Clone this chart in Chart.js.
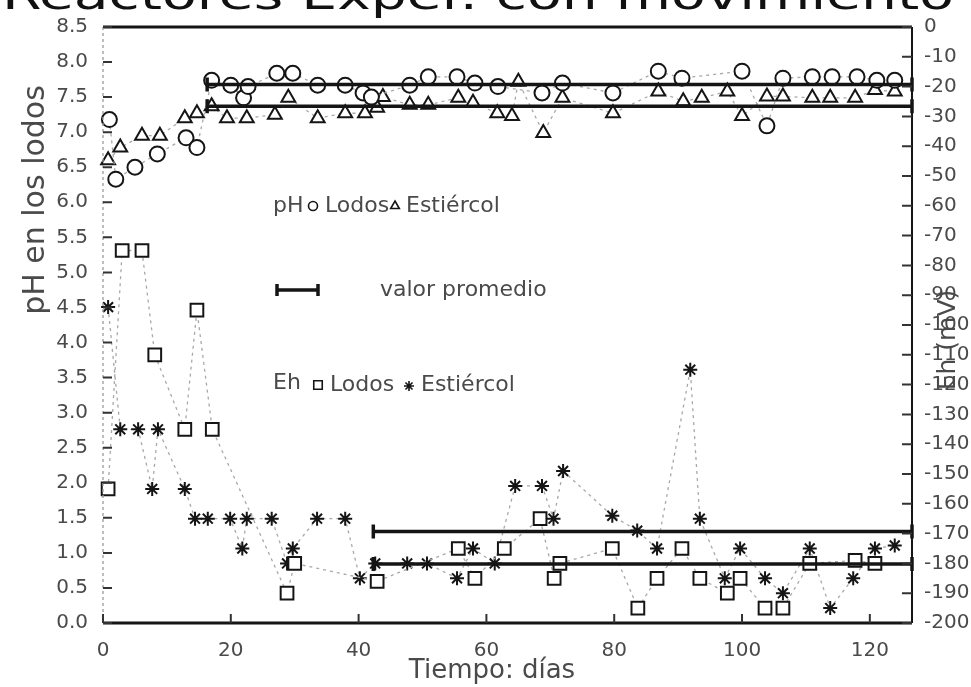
<!DOCTYPE html>
<html>
<head>
<meta charset="utf-8">
<script src="https://cdn.jsdelivr.net/npm/chart.js@4.4.1/dist/chart.umd.min.js"></script>
<style>
  html, body { margin: 0; padding: 0; background: #fff; }
  #wrap { width: 971px; height: 687px; }
</style>
</head>
<body>
<div id="wrap"><canvas id="chart" width="971" height="687"></canvas></div>
<script>
// pH, Lodos (circles)
const phLodosDays = [1, 2, 5, 8.5, 13, 14.7, 17, 20, 22, 22.7, 27.2, 29.7, 33.6, 37.9, 40.7, 42, 48, 50.9, 55.4, 58.2, 61.8, 68.7, 71.9, 79.8, 86.9, 90.6, 100, 103.9, 106.4, 111, 114.1, 118, 121.1, 123.9];
const phLodos = [7.18, 6.33, 6.5, 6.69, 6.92, 6.78, 7.74, 7.67, 7.49, 7.65, 7.84, 7.84, 7.67, 7.67, 7.56, 7.5, 7.67, 7.79, 7.79, 7.7, 7.65, 7.56, 7.7, 7.56, 7.87, 7.77, 7.87, 7.09, 7.77, 7.79, 7.79, 7.79, 7.74, 7.74];
// pH, Estiércol (triangles)
const phEstDays = [0.8, 2.7, 6.1, 8.9, 12.8, 14.7, 17, 19.4, 22.5, 26.9, 29, 33.6, 37.9, 41, 42.9, 43.8, 48, 50.9, 55.6, 57.9, 61.7, 64, 65, 68.9, 71.9, 79.8, 86.9, 90.8, 93.7, 97.7, 100, 103.9, 106.4, 111, 113.8, 117.7, 120.8, 123.9];
const phEst = [6.6, 6.78, 6.95, 6.95, 7.2, 7.27, 7.37, 7.2, 7.2, 7.25, 7.49, 7.2, 7.27, 7.27, 7.35, 7.5, 7.39, 7.39, 7.49, 7.42, 7.27, 7.23, 7.72, 6.99, 7.49, 7.27, 7.58, 7.44, 7.49, 7.58, 7.23, 7.51, 7.51, 7.49, 7.49, 7.49, 7.6, 7.58];
// Eh, Lodos (squares), mV
const ehLodosDays = [0.8, 3, 6.1, 8.1, 12.8, 14.7, 17.1, 28.8, 30, 42.9, 55.6, 58.2, 62.8, 68.4, 70.6, 71.5, 79.7, 83.7, 86.7, 90.6, 93.4, 97.7, 99.7, 103.6, 106.4, 110.6, 117.7, 120.8];
const ehLodos = [-155, -75, -75, -110, -135, -95, -135, -190, -180, -186, -175, -185, -175, -165, -185, -180, -175, -195, -185, -175, -185, -190, -185, -195, -195, -180, -179, -180];
// Eh, Estiércol (stars), mV
const ehEstDays = [0.8, 2.7, 5.5, 7.7, 8.6, 12.8, 14.4, 16.4, 19.9, 21.8, 22.5, 26.4, 28.8, 29.7, 33.5, 37.9, 40.2, 42.6, 47.6, 50.7, 55.4, 57.9, 61.3, 64.5, 68.7, 70.5, 72, 79.7, 83.6, 86.7, 91.9, 93.4, 97.3, 99.7, 103.6, 106.4, 110.6, 113.8, 117.4, 120.8, 123.9];
const ehEst = [-94, -135, -135, -155, -135, -155, -165, -165, -165, -175, -165, -165, -180, -175, -165, -165, -185, -180, -180, -180, -185, -175, -180, -154, -154, -165, -149, -164, -169, -175, -115, -165, -185, -175, -185, -190, -175, -195, -185, -175, -174];

// valor promedio
const avgPhDays = [16.3, 126.6];
const avgPhLodos = [7.68, 7.68];
const avgPhEst = [7.37, 7.37];
const avgEhDays = [42.3, 126.6];
const avgEhLodos = [-180.2, -180.2];
const avgEhEst = [-169.3, -169.3];

// axis ticks
const dayTicks = [0, 20, 40, 60, 80, 100, 120];
const phTicks = [0, 0.5, 1, 1.5, 2, 2.5, 3, 3.5, 4, 4.5, 5, 5.5, 6, 6.5, 7, 7.5, 8, 8.5];
const ehTicks = [0, -10, -20, -30, -40, -50, -60, -70, -80, -90, -100, -110, -120, -130, -140, -150, -160, -170, -180, -190, -200];

const pts = (xs, ys) => xs.map((x, i) => ({ x, y: ys[i] }));

const INK = '#151515';
const LABEL = '#4a4a4a';
const FONT = 'DejaVu Sans';

const markerSeries = (data, axis, style, radius) => ({
  data,
  yAxisID: axis,
  showLine: true,
  borderColor: '#a8a8a8',
  borderWidth: 1.3,
  borderDash: [3, 4],
  pointStyle: style,
  pointRadius: radius,
  pointBorderColor: INK,
  pointBackgroundColor: '#fff',
  pointBorderWidth: 2,
  clip: false,
});

const avgSeries = (data, axis) => ({
  data,
  yAxisID: axis,
  showLine: true,
  borderColor: INK,
  borderWidth: 3.5,
  pointStyle: 'line',
  pointRotation: 90,
  pointRadius: 7,
  pointBorderColor: INK,
  pointBorderWidth: 3.5,
  clip: false,
});

const chromePlugin = {
  id: 'chrome',
  afterDraw(chart) {
    const { ctx, chartArea: a, scales } = chart;
    ctx.save();

    // title, cut off at the top edge as in the scan
    ctx.fillStyle = '#111';
    ctx.font = `40px ${FONT}`;
    ctx.textAlign = 'left';
    ctx.textBaseline = 'alphabetic';
    const title = 'Reactores Exper. con movimiento';
    const tw = ctx.measureText(title).width;
    ctx.save();
    ctx.translate(2, 9);
    ctx.scale(952 / tw, 1);
    ctx.fillText(title, 0, 0);
    ctx.restore();

    // frame
    ctx.strokeStyle = INK;
    ctx.lineWidth = 3;
    ctx.beginPath();
    ctx.moveTo(a.left, a.top); ctx.lineTo(a.right, a.top);
    ctx.moveTo(a.left, a.bottom); ctx.lineTo(a.right, a.bottom);
    ctx.stroke();
    ctx.lineWidth = 2;
    ctx.beginPath();
    ctx.moveTo(a.right, a.top); ctx.lineTo(a.right, a.bottom);
    ctx.stroke();
    ctx.strokeStyle = '#9a9a9a';
    ctx.lineWidth = 1.3;
    ctx.setLineDash([3, 3]);
    ctx.beginPath();
    ctx.moveTo(a.left, a.top); ctx.lineTo(a.left, a.bottom);
    ctx.stroke();
    ctx.setLineDash([]);

    // inward tick marks
    ctx.strokeStyle = '#333';
    ctx.lineWidth = 2;
    ctx.beginPath();
    phTicks.forEach((v) => {
      const y = scales.yL.getPixelForValue(v);
      ctx.moveTo(a.left, y); ctx.lineTo(a.left + 9, y);
    });
    ehTicks.forEach((v) => {
      const y = scales.yR.getPixelForValue(v);
      ctx.moveTo(a.right - 10, y); ctx.lineTo(a.right, y);
    });
    dayTicks.forEach((v) => {
      const x = scales.x.getPixelForValue(v);
      ctx.moveTo(x, a.bottom); ctx.lineTo(x, a.bottom - 9);
    });
    ctx.stroke();

    // axis titles
    ctx.fillStyle = LABEL;
    ctx.textAlign = 'center';
    ctx.textBaseline = 'middle';
    ctx.save();
    ctx.font = `30px ${FONT}`;
    ctx.translate(36, 200);
    ctx.rotate(-Math.PI / 2);
    ctx.fillText('pH en los lodos', 0, 0);
    ctx.restore();
    ctx.save();
    ctx.font = `25px ${FONT}`;
    ctx.translate(948, 340);
    ctx.rotate(-Math.PI / 2);
    ctx.fillText('Eh (mV)', 0, 0);
    ctx.restore();
    ctx.font = `26px ${FONT}`;
    ctx.fillText('Tiempo: días', 492, 671);

    // legend inside the plot
    ctx.textAlign = 'left';
    ctx.font = `22px ${FONT}`;
    const mark = (style, x, y, r) => {
      ctx.strokeStyle = INK;
      ctx.fillStyle = '#fff';
      ctx.lineWidth = 1.6;
      Chart.helpers.drawPoint(ctx, { pointStyle: style, radius: r, rotation: 0, borderWidth: 1.6 }, x, y);
      ctx.fillStyle = LABEL;
    };
    ctx.fillStyle = LABEL;
    ctx.fillText('pH', 273, 206);
    mark('circle', 313, 206, 4.5);
    ctx.fillText('Lodos', 325, 206);
    mark('triangle', 395, 206, 5);
    ctx.fillText('Estiércol', 406, 206);

    ctx.strokeStyle = INK;
    ctx.lineWidth = 3.5;
    ctx.beginPath();
    ctx.moveTo(277, 290); ctx.lineTo(318, 290);
    ctx.moveTo(277, 284); ctx.lineTo(277, 296);
    ctx.moveTo(318, 284); ctx.lineTo(318, 296);
    ctx.stroke();
    ctx.fillText('valor promedio', 380, 290);

    ctx.fillText('Eh', 273, 383);
    mark('rect', 318, 385, 6);
    ctx.fillText('Lodos', 330, 385);
    mark('star', 409, 386, 5);
    ctx.fillText('Estiércol', 421, 385);

    ctx.restore();
  },
};

const tickFont = { family: FONT, size: 20 };

new Chart(document.getElementById('chart'), {
  type: 'scatter',
  data: {
    datasets: [
      avgSeries(pts(avgPhDays, avgPhLodos), 'yL'),
      avgSeries(pts(avgPhDays, avgPhEst), 'yL'),
      avgSeries(pts(avgEhDays, avgEhLodos), 'yR'),
      avgSeries(pts(avgEhDays, avgEhEst), 'yR'),
      markerSeries(pts(phLodosDays, phLodos), 'yL', 'circle', 7.5),
      markerSeries(pts(phEstDays, phEst), 'yL', 'triangle', 8),
      markerSeries(pts(ehLodosDays, ehLodos), 'yR', 'rect', 9),
      markerSeries(pts(ehEstDays, ehEst), 'yR', 'star', 7),
    ],
  },
  options: {
    responsive: false,
    animation: false,
    layout: { padding: { top: 17, left: 0, right: 0, bottom: 0 } },
    plugins: {
      legend: { display: false },
      tooltip: { enabled: false },
    },
    scales: {
      x: {
        type: 'linear',
        min: 0,
        max: 126.6,
        afterBuildTicks: (s) => { s.ticks = dayTicks.map((value) => ({ value })); },
        afterFit: (s) => { s.height = 64; },
        grid: { display: false, drawTicks: false },
        border: { display: false },
        ticks: { font: tickFont, color: LABEL, padding: 16, maxRotation: 0, autoSkip: false },
      },
      yL: {
        type: 'linear',
        position: 'left',
        min: 0,
        max: 8.5,
        afterBuildTicks: (s) => { s.ticks = phTicks.map((value) => ({ value })); },
        afterFit: (s) => { s.width = 103; },
        grid: { display: false, drawTicks: false },
        border: { display: false },
        ticks: { font: tickFont, color: LABEL, padding: 15, autoSkip: false, callback: (v) => Number(v).toFixed(1) },
      },
      yR: {
        type: 'linear',
        position: 'right',
        min: -200,
        max: 0,
        afterBuildTicks: (s) => { s.ticks = ehTicks.map((value) => ({ value })); },
        afterFit: (s) => { s.width = 59; },
        grid: { display: false, drawTicks: false },
        border: { display: false },
        ticks: { font: tickFont, color: LABEL, padding: 12, autoSkip: false },
      },
    },
  },
  plugins: [chromePlugin],
});
</script>
</body>
</html>
